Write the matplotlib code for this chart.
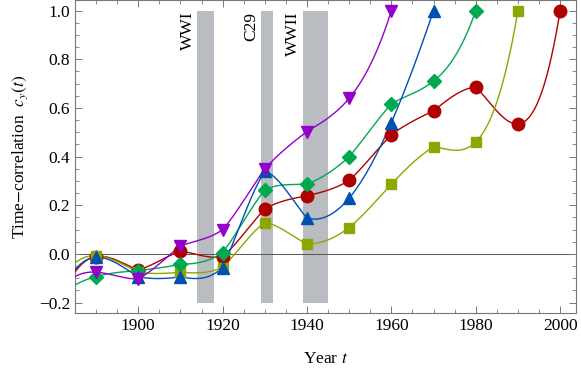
import numpy as np
import matplotlib
matplotlib.use("Agg")
from matplotlib import pyplot as plt
from matplotlib.ticker import MultipleLocator

# decade values, one list per series
# (the 1880 values sit off the left edge; estimated from where the curves enter the frame)
years_red = [1880, 1890, 1900, 1910, 1920, 1930, 1940, 1950, 1960, 1970, 1980, 1990, 2000]
red = [-0.275, -0.011, -0.066, 0.012, -0.011, 0.185, 0.239, 0.302, 0.490, 0.588, 0.686, 0.534, 1.0]

years_olive = [1880, 1890, 1900, 1910, 1920, 1930, 1940, 1950, 1960, 1970, 1980, 1990]
olive = [-0.16, -0.007, -0.075, -0.075, -0.056, 0.129, 0.041, 0.108, 0.287, 0.440, 0.460, 1.0]

years_green = [1880, 1890, 1900, 1910, 1920, 1930, 1940, 1950, 1960, 1970, 1980]
green = [-0.19, -0.093, -0.069, -0.043, 0.005, 0.263, 0.287, 0.400, 0.617, 0.710, 1.0]

years_blue = [1880, 1890, 1900, 1910, 1920, 1930, 1940, 1950, 1960, 1970]
blue = [-0.244, -0.014, -0.094, -0.094, -0.056, 0.339, 0.147, 0.229, 0.540, 1.0]

years_purple = [1880, 1890, 1900, 1910, 1920, 1930, 1940, 1950, 1960]
purple = [-0.182, -0.075, -0.103, 0.033, 0.099, 0.350, 0.503, 0.640, 1.0]

events = ["WWI", "C29", "WWII"]
event_start = [1914, 1929, 1939]
event_end = [1918, 1932, 1945]


def local_cubic(xs, ys, x0, x1, n=400):
    # piecewise cubic through the 4 neighbouring points (like Mathematica's Interpolation)
    xs = np.asarray(xs, float)
    ys = np.asarray(ys, float)
    xx = np.linspace(x0, x1, n)
    out = np.empty_like(xx)
    for k, x in enumerate(xx):
        i = np.searchsorted(xs, x) - 1
        j0 = int(np.clip(i - 1, 0, len(xs) - 4))
        c = np.polyfit(xs[j0:j0 + 4] - xs[j0], ys[j0:j0 + 4], 3)
        out[k] = np.polyval(c, x - xs[j0])
    return xx, out


plt.rcParams["font.family"] = ["Liberation Serif", "DejaVu Serif"]
plt.rcParams["mathtext.fontset"] = "stix"

fig = plt.figure(figsize=(5.81, 3.70), dpi=100)
ax = fig.add_axes([0.129, 0.154, 0.862, 0.845])

x_lo, x_hi = 1885, 2003.7
ax.set_xlim(x_lo, x_hi)
ax.set_ylim(-0.243, 1.042)

# shaded event bars
for name, s, e in zip(events, event_start, event_end):
    ax.bar(s, 1.2, width=e - s, bottom=-0.2, align="edge", color="#b9bcc0", zorder=1)
    ax.text(s - 2.3, 0.995, name, rotation=90, ha="center", va="top", fontsize=12.5, zorder=2)

ax.axhline(0, color="#555555", lw=0.7, zorder=1.5)

series = [
    (years_red, red, "#b00000", "o", 9.0),
    (years_olive, olive, "#8ca800", "s", 7.5),
    (years_green, green, "#00a850", "D", 6.8),
    (years_blue, blue, "#0050b0", "^", 8.5),
    (years_purple, purple, "#9400cc", "v", 8.5),
]

for xs, ys, col, mk, ms in series:
    xx, yy = local_cubic(xs, ys, x_lo, xs[-1])
    ax.plot(xx, yy, color=col, lw=1.0, zorder=3)
    ax.plot(xs, ys, ls="none", marker=mk, ms=ms, color=col, mec=col, zorder=4)

ax.xaxis.set_major_locator(MultipleLocator(20))
ax.xaxis.set_minor_locator(MultipleLocator(5))
ax.yaxis.set_major_locator(MultipleLocator(0.2))
ax.yaxis.set_minor_locator(MultipleLocator(0.05))
ax.yaxis.set_major_formatter(plt.FuncFormatter(lambda v, p: f"{v:.1f}".replace("-", "\u2212")))
ax.tick_params(which="both", direction="in", top=True, right=True, color="#777777",
               labelsize=12.5)
ax.tick_params(which="major", length=5, width=0.7)
ax.tick_params(which="minor", length=3, width=0.6)
for sp in ax.spines.values():
    sp.set_color("#777777")
    sp.set_linewidth(0.8)

ax.set_xlabel("Year $t$", fontsize=12.5, labelpad=12)
ax.set_ylabel("Time$-$correlation  $c_y(t)$", fontsize=12.5, labelpad=6)

fig.savefig("out.png", dpi=100)
